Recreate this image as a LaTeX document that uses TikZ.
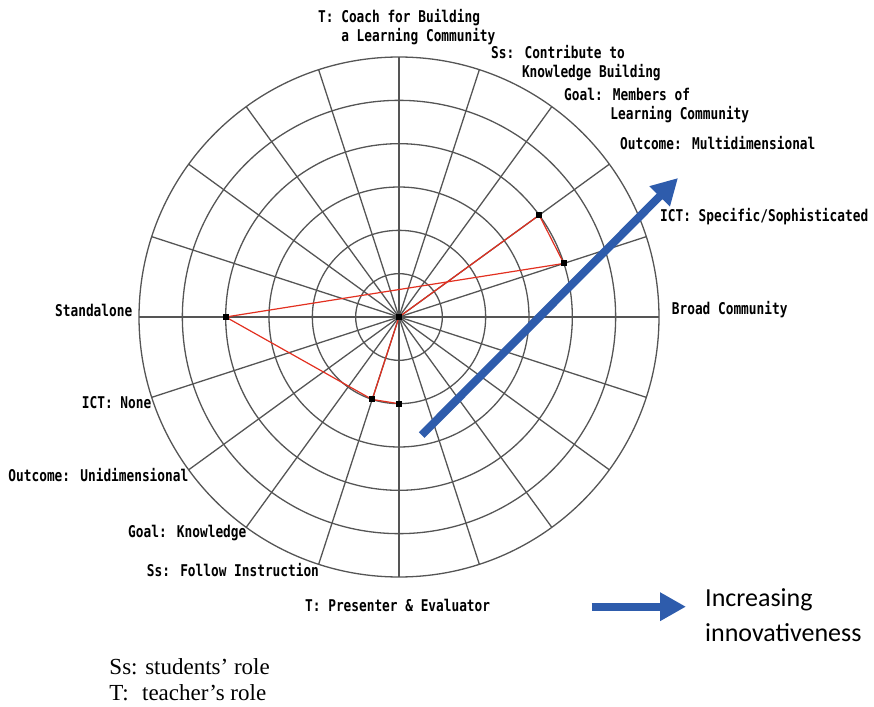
\documentclass[tikz,border=0pt]{standalone}
\usepackage{fontspec}
\setmainfont{Liberation Serif}
\newfontfamily\axisfont[FakeStretch=0.79]{DejaVu Sans Mono}
\newfontfamily\notefont{Carlito}
\usetikzlibrary{arrows.meta}
\definecolor{gridgray}{RGB}{85,85,85}
\definecolor{trendblue}{RGB}{46,92,172}
\definecolor{datared}{RGB}{226,48,32}

\begin{document}
\begin{tikzpicture}[x=1pt,y=1pt,
        gridline/.style={gridgray,line width=1.3pt},
        axislabel/.style={anchor=west,inner sep=0pt,align=left,font=\axisfont\bfseries\fontsize{16.2}{19.5}\selectfont},
        datapt/.style={rectangle,fill=black,minimum size=6pt,inner sep=0pt},
        trend/.style={trendblue,line width=8pt,-{Triangle[length=26pt,width=27pt]}}]
        \useasboundingbox (-399,-389) rectangle (475,317);
        \foreach \r in {1,...,6}
            \draw[gridline] (0,0) circle ({\r*43.33pt});
        \foreach \a in {0,18,...,342}
            \draw[gridline] (0,0) -- (\a:260pt);

        \coordinate (vT) at (270:86.7pt);
        \coordinate (vSs) at (252:86.7pt);
        \coordinate (vGoal) at (0,0);
        \coordinate (vOut) at (36:173.3pt);
        \coordinate (vICT) at (18:173.3pt);
        \coordinate (vCom) at (180:173.3pt);
        \draw[datared,line width=1.2pt] (vT) -- (vSs) -- (vGoal) -- (vOut) -- (vICT) -- (vCom) -- (vSs);
        \foreach \p in {vT,vSs,vGoal,vOut,vICT,vCom}
            \node[datapt] (m\p) at (\p) {};

        \node[axislabel] (coach) at (-81,289.75) {T: Coach for Building\\\phantom{T:~}a Learning Community};
        \node[axislabel] (contribute) at (92,254) {Ss: Contribute to\\\phantom{Ss:~}Knowledge Building};
        \node[axislabel] (members) at (165,211.25) {Goal: Members of\\\phantom{Goal:~}Learning Community};
        \node[axislabel] (multi) at (221,174) {Outcome: Multidimensional};
        \node[axislabel] (sophist) at (261,100.3) {ICT: Specific/Sophisticated};
        \node[axislabel] (broad) at (272.7,7) {Broad Community};
        \node[axislabel] (standalone) at (-344,7) {Standalone};
        \node[axislabel] (ictnone) at (-317.3,-85.7) {ICT: None};
        \node[axislabel] (uni) at (-390.7,-158) {Outcome: Unidimensional};
        \node[axislabel] (knowledge) at (-271,-215.7) {Goal: Knowledge};
        \node[axislabel] (follow) at (-252.3,-253) {Ss: Follow Instruction};
        \node[axislabel] (presenter) at (-94,-288) {T: Presenter \& Evaluator};

        \coordinate (diagS) at (22.7,-118);
        \coordinate (diagE) at (279,139);
        \draw[trend] (diagS) -- (diagE);
        \coordinate (keyS) at (192.7,-289.7);
        \coordinate (keyE) at (287,-289.7);
        \draw[trend] (keyS) -- (keyE);
        \node[anchor=west,inner sep=0pt,align=left,font=\notefont\fontsize{26}{35}\selectfont] (increase) at (306,-298.5) {Increasing\\innovativeness};

        \node[anchor=west,inner sep=0pt,align=left,font=\fontsize{23}{26}\selectfont] (legend) at (-289.7,-363) {Ss: students’ role\\T:\hspace{0.58em}teacher’s role};
\end{tikzpicture}
\end{document}
